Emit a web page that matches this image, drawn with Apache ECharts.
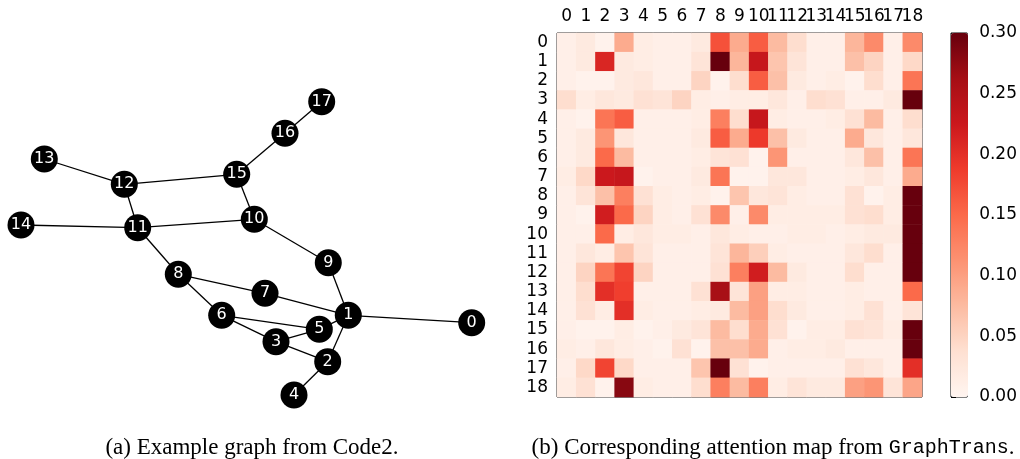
<!DOCTYPE html>
<html>
<head>
<meta charset="utf-8">
<script src="https://cdn.jsdelivr.net/npm/echarts@6/dist/echarts.min.js"></script>
<style>
  html, body { margin: 0; padding: 0; background: #fff; }
  #show_picture { width: 1020px; height: 459px; }
</style>
</head>
<body>
<div id="show_picture"></div>
<script>
// graph nodes (position) and edges
const nodeNames = ['0','1','2','3','4','5','6','7','8','9','10','11','12','13','14','15','16','17'];
const nodeX = [471.7, 348.3, 327.7, 276, 294, 319.3, 221.7, 265, 178.3, 328.3, 254.3, 137.7, 124.3, 44.3, 21, 236.7, 285, 321.7];
const nodeY = [322.7, 315.3, 361.7, 341.7, 395, 329.3, 315.3, 293.3, 274.3, 262.7, 219.3, 227.7, 184.3, 159, 225, 174.3, 133.3, 101.7];
const edges = [[17,16],[16,15],[13,12],[12,15],[12,11],[15,10],[14,11],[11,10],[11,8],[10,9],[9,1],
               [8,7],[8,6],[7,1],[6,5],[6,3],[3,5],[3,2],[5,1],[1,0],[1,2],[2,4]];

// attention map
const labels = ['0','1','2','3','4','5','6','7','8','9','10','11','12','13','14','15','16','17','18'];
const attention = [
  [0.01,0.02,0.005,0.09,0.015,0.01,0.01,0.02,0.17,0.09,0.16,0.075,0.04,0.01,0.01,0.08,0.12,0.01,0.12],
  [0.01,0.02,0.21,0.02,0.015,0.01,0.01,0.03,0.30,0.08,0.23,0.065,0.03,0.01,0.01,0.07,0.05,0.01,0.045],
  [0.01,0.005,0.005,0.02,0.025,0.01,0.01,0.05,0.005,0.04,0.16,0.07,0.02,0.01,0.015,0.005,0.04,0.01,0.14],
  [0.04,0.015,0.025,0.02,0.035,0.03,0.05,0.015,0.01,0.015,0.015,0.025,0.01,0.04,0.035,0.01,0.01,0.02,0.30],
  [0.01,0.005,0.14,0.16,0.01,0.01,0.01,0.015,0.13,0.04,0.23,0.015,0.01,0.01,0.015,0.035,0.075,0.01,0.04],
  [0.01,0.02,0.11,0.025,0.01,0.01,0.01,0.02,0.16,0.09,0.19,0.07,0.02,0.01,0.01,0.09,0.025,0.01,0.025],
  [0.01,0.02,0.15,0.075,0.01,0.01,0.01,0.015,0.03,0.035,0.005,0.11,0.01,0.01,0.01,0.025,0.07,0.01,0.14],
  [0.015,0.045,0.225,0.23,0.005,0.01,0.01,0.02,0.14,0.005,0.005,0.025,0.025,0.01,0.01,0.015,0.025,0.01,0.09],
  [0.01,0.03,0.07,0.13,0.035,0.015,0.01,0.015,0.005,0.065,0.025,0.03,0.015,0.01,0.01,0.035,0.005,0.015,0.30],
  [0.01,0.005,0.22,0.15,0.05,0.015,0.01,0.035,0.12,0.01,0.12,0.015,0.015,0.015,0.015,0.035,0.04,0.015,0.30],
  [0.01,0.01,0.15,0.015,0.025,0.015,0.015,0.01,0.025,0.015,0.01,0.01,0.015,0.015,0.01,0.015,0.02,0.02,0.30],
  [0.01,0.025,0.015,0.065,0.03,0.01,0.01,0.01,0.03,0.08,0.055,0.015,0.01,0.01,0.01,0.025,0.04,0.01,0.30],
  [0.01,0.05,0.14,0.18,0.05,0.01,0.01,0.01,0.035,0.13,0.22,0.075,0.02,0.01,0.01,0.04,0.01,0.01,0.30],
  [0.01,0.04,0.20,0.185,0.01,0.01,0.01,0.035,0.26,0.03,0.10,0.015,0.015,0.01,0.01,0.015,0.01,0.01,0.15],
  [0.01,0.035,0.015,0.20,0.015,0.01,0.01,0.015,0.02,0.075,0.10,0.04,0.02,0.01,0.01,0.015,0.035,0.01,0.03],
  [0.01,0.005,0.005,0.015,0.005,0.01,0.02,0.03,0.075,0.04,0.09,0.035,0.005,0.015,0.015,0.035,0.03,0.015,0.30],
  [0.015,0.01,0.025,0.015,0.01,0.005,0.035,0.005,0.07,0.07,0.09,0.01,0.015,0.015,0.02,0.01,0.01,0.01,0.30],
  [0.01,0.045,0.18,0.045,0.01,0.01,0.01,0.065,0.30,0.035,0.005,0.01,0.01,0.01,0.01,0.035,0.025,0.01,0.20],
  [0.015,0.035,0.005,0.28,0.015,0.01,0.01,0.04,0.13,0.075,0.13,0.015,0.03,0.02,0.02,0.10,0.11,0.03,0.095]
];
const colorTicks = [0, 0.05, 0.10, 0.15, 0.20, 0.25, 0.30];
const reds = ['#fff5f0','#fee0d2','#fcbba1','#fc9272','#fb6a4a','#ef3b2c','#cb181d','#a50f15','#67000d'];

let myChart = echarts.init(document.getElementById('show_picture'));

let heatData = [];
attention.forEach((row, i) => {
    row.forEach((v, j) => heatData.push([j, i, v]));
});

const font = '"DejaVu Sans"';
const serif = 'Liberation Serif';

let option = {
    animation: false,
    textStyle: { fontFamily: font },
    title: [
        {
            text: '(a) Example graph from Code2.',
            left: 247, top: 431, textAlign: 'center',
            textStyle: { fontFamily: serif, fontWeight: 'normal', fontSize: 23, color: '#000' }
        },
        {
            text: '{n|(b) Corresponding attention map from }{m|GraphTrans}{n|.}',
            left: 768, top: 431, textAlign: 'center',
            textStyle: {
                fontWeight: 'normal',
                rich: {
                    n: { fontFamily: serif, fontWeight: 'normal', fontSize: 23, color: '#000' },
                    m: { fontFamily: 'Liberation Mono', fontWeight: 'normal', fontSize: 20, color: '#000' }
                }
            }
        }
    ],
    grid: [
        { left: 0, top: 0, width: 1020, height: 459 },
        { left: 557, top: 33, width: 365, height: 364, show: true, borderColor: '#000', borderWidth: 1, backgroundColor: 'transparent' },
        { left: 951, top: 33, width: 17, height: 364, show: true, borderColor: '#000', borderWidth: 1, backgroundColor: 'transparent' }
    ],
    xAxis: [
        { gridIndex: 0, type: 'value', min: 0, max: 1020, show: false },
        {
            gridIndex: 1, type: 'category', data: labels, position: 'top',
            axisLine: { show: false },
            axisTick: { alignWithLabel: true, length: 5, lineStyle: { color: '#000' } },
            axisLabel: { interval: 0, fontFamily: font, fontSize: 17, color: '#000', margin: 8, hideOverlap: false },
            splitLine: { show: false }
        },
        {
            gridIndex: 1, type: 'category', data: labels, position: 'bottom',
            axisLine: { show: false },
            axisTick: { alignWithLabel: true, length: 5, lineStyle: { color: '#000' } },
            axisLabel: { show: false }
        },
        { gridIndex: 2, type: 'value', min: 0, max: 1, show: false }
    ],
    yAxis: [
        { gridIndex: 0, type: 'value', min: 0, max: 459, inverse: true, show: false },
        {
            gridIndex: 1, type: 'category', data: labels, inverse: true,
            axisLine: { show: false },
            axisTick: { alignWithLabel: true, length: 5, lineStyle: { color: '#000' } },
            axisLabel: { interval: 0, fontFamily: font, fontSize: 17, color: '#000', margin: 9 },
            splitLine: { show: false }
        },
        {
            gridIndex: 2, type: 'value', min: 0, max: 0.3, interval: 0.05, position: 'right',
            axisLine: { show: false },
            axisTick: { length: 5, lineStyle: { color: '#000' } },
            axisLabel: { fontFamily: font, fontSize: 17, color: '#000', margin: 12, formatter: v => v.toFixed(2) },
            splitLine: { show: false }
        }
    ],
    visualMap: {
        type: 'continuous',
        min: colorTicks[0], max: colorTicks[colorTicks.length - 1],
        seriesIndex: 1,
        calculable: false,
        left: 951, top: 33, padding: 0,
        itemWidth: 17, itemHeight: 364,
        text: ['', ''], showLabel: false,
        inRange: { color: reds }
    },
    series: [
        {
            type: 'graph',
            coordinateSystem: 'cartesian2d',
            xAxisIndex: 0, yAxisIndex: 0,
            symbolSize: 27,
            itemStyle: { color: '#000' },
            label: { show: true, position: 'inside', color: '#fff', fontSize: 16, fontFamily: font },
            lineStyle: { color: '#000', width: 1.3, opacity: 1 },
            z: 3,
            data: nodeNames.map((n, i) => ({ name: n, value: [nodeX[i], nodeY[i]] })),
            links: edges.map(e => ({ source: e[0], target: e[1] }))
        },
        {
            type: 'heatmap',
            xAxisIndex: 1, yAxisIndex: 1,
            data: heatData,
            itemStyle: { borderWidth: 0 },
            emphasis: { disabled: true }
        }
    ]
};

option && myChart.setOption(option);
</script>
</body>
</html>
